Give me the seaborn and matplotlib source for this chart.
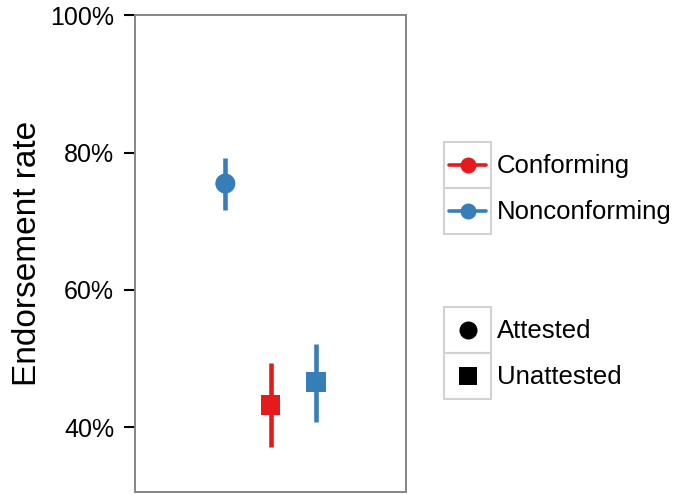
import numpy as np
import pandas as pd
import matplotlib
matplotlib.use("Agg")
import matplotlib.pyplot as plt
from matplotlib.patches import Rectangle
from matplotlib.lines import Line2D
import seaborn as sns

# ---- data ----
conditions = ["Nonconforming attested", "Conforming unattested", "Nonconforming unattested"]
conformity = ["Nonconforming", "Conforming", "Nonconforming"]
attestation = ["Attested", "Unattested", "Unattested"]
rate = [75.5, 43.3, 46.6]
lower = [71.7, 37.2, 40.7]
upper = [79.2, 49.3, 52.1]
y_ticks = [40, 60, 80, 100]
y_tick_labels = ["40%", "60%", "80%", "100%"]
conf_levels = ["Conforming", "Nonconforming"]
att_levels = ["Attested", "Unattested"]

palette = {"Conforming": "#E41A1C", "Nonconforming": "#377EB8"}
markers = {"Attested": "o", "Unattested": "s"}

df = pd.DataFrame({"condition": conditions, "conformity": conformity,
                   "attestation": attestation, "rate": rate,
                   "lower": lower, "upper": upper})
df["pos"] = np.arange(len(df))

sns.set_style("white")
plt.rcParams["font.family"] = ["Liberation Sans", "DejaVu Sans"]
plt.rcParams["text.color"] = "black"
plt.rcParams["axes.labelcolor"] = "black"
plt.rcParams["ytick.color"] = "black"
plt.rcParams["ytick.labelcolor"] = "black"

W, H = 680, 495
fig = plt.figure(figsize=(W / 100, H / 100), dpi=100)
L, R, T, B = 135, 406, 15.3, 491.7
ax = fig.add_axes([L / W, 1 - B / H, (R - L) / W, (B - T) / H])

# error bars
ax.vlines(df["pos"], df["lower"], df["upper"],
          colors=[palette[c] for c in df["conformity"]],
          linewidth=3.3, zorder=2)
sns.scatterplot(data=df, x="pos", y="rate", hue="conformity", style="attestation",
                palette=palette, markers=markers, s=207, linewidth=0,
                legend=False, ax=ax, zorder=3)

ax.set_xlim(-2, 4)
ax.set_ylim(30.62, 100)
ax.set_xticks([])
ax.set_xlabel("")
ax.set_yticks(y_ticks)
ax.set_yticklabels(y_tick_labels, fontsize=18, color="black")
ax.set_ylabel("Endorsement rate", fontsize=24, labelpad=5, color="black")
ax.tick_params(axis="y", length=8, width=1.5, color="black", pad=7, left=True)
for s in ax.spines.values():
    s.set_visible(True)
    s.set_color("#858585")
    s.set_linewidth(1.4)

# ---- legends (drawn in pixel coordinates) ----
lax = fig.add_axes([0, 0, 1, 1], zorder=5)
lax.set_xlim(0, W)
lax.set_ylim(H, 0)
lax.axis("off")
lax.patch.set_alpha(0)

key_w, key_h = 46.5, 46
box_x = 444.3

def key_box(y0):
    lax.add_patch(Rectangle((box_x, y0), key_w, key_h, fill=False,
                            edgecolor="#d2d2d2", linewidth=1.5))

y0 = 142.3
for i, lev in enumerate(conf_levels):
    yy = y0 + i * key_h
    key_box(yy)
    cy = yy + key_h / 2
    lax.add_line(Line2D([box_x + 5, box_x + key_w - 4.5], [cy, cy],
                        color=palette[lev], linewidth=2.6))
    lax.plot([box_x + key_w / 2], [cy], marker="o", markersize=11.5,
             color=palette[lev], markeredgewidth=0)
    lax.text(497, cy + 1, lev, fontsize=18.5, va="center", ha="left", color="black")

y1 = 307.3
for i, lev in enumerate(att_levels):
    yy = y1 + i * key_h
    key_box(yy)
    cy = yy + key_h / 2
    lax.plot([box_x + key_w / 2], [cy], marker=markers[lev],
             markersize=13 if lev == "Attested" else 12.5,
             color="black", markeredgewidth=0)
    lax.text(497, cy + 1, lev, fontsize=18.5, va="center", ha="left", color="black")

fig.savefig("out.png", dpi=100)
